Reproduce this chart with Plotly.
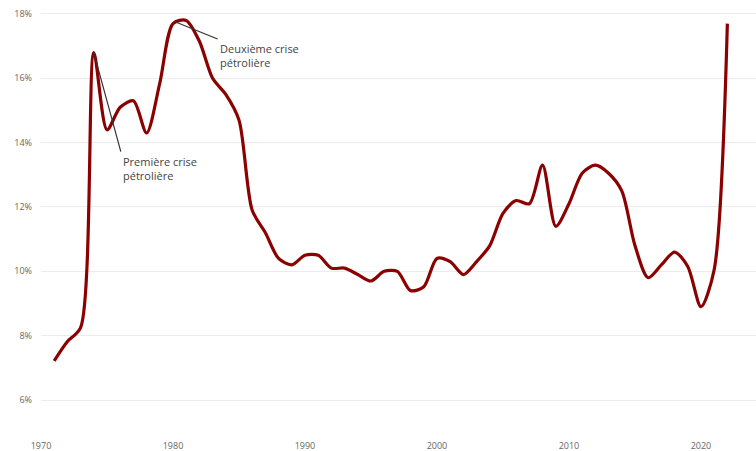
import plotly.graph_objects as go

years = list(range(1971, 2023))
values = [7.22, 7.82, 8.25, 16.8, 14.4, 15.1, 15.3, 14.3, 15.85, 17.7,
          17.8, 17.15, 16.0, 15.5, 14.7, 11.9, 11.2, 10.4, 10.2, 10.5,
          10.5, 10.1, 10.1, 9.9, 9.7, 10.0, 10.0, 9.4, 9.52, 10.4,
          10.3, 9.9, 10.3, 10.8, 11.8, 12.2, 12.1, 13.3, 11.4, 12.1,
          13.05, 13.3, 13.05, 12.5, 10.8, 9.8, 10.2, 10.6, 10.15, 8.9,
          10.05, 17.7]
y_ticks = [6, 8, 10, 12, 14, 16, 18]
y_tick_labels = ["6%", "8%", "10%", "12%", "14%", "16%", "18%"]
x_ticks = [1970, 1980, 1990, 2000, 2010, 2020]

fig = go.Figure()
fig.add_trace(go.Scatter(
    x=years, y=values, mode="lines",
    line=dict(color="#8b0000", width=3.2, shape="spline", smoothing=0.8),
    hoverinfo="x+y", showlegend=False,
))

fig.add_annotation(
    x=1974, y=16.8, text="Première crise<br>pétrolière",
    showarrow=True, arrowhead=0, arrowwidth=1.2, arrowcolor="#333",
    ax=27, ay=99, xanchor="left", yanchor="top", align="left",
    font=dict(family="Open Sans", size=11, color="#444"),
)
fig.add_annotation(
    x=1980.2, y=17.75, text="Deuxième crise<br>pétrolière",
    showarrow=True, arrowhead=0, arrowwidth=1.2, arrowcolor="#333",
    ax=42, ay=17, xanchor="left", yanchor="top", align="left",
    font=dict(family="Open Sans", size=11, color="#444"),
)

fig.update_layout(
    width=756, height=451,
    margin=dict(l=41, r=0, t=4, b=12),
    paper_bgcolor="white", plot_bgcolor="white",
    font=dict(family="Open Sans", size=10, color="#666"),
    xaxis=dict(
        range=[1970, 2024.17], tickvals=x_ticks, showgrid=False,
        zeroline=False, showline=False, ticks="", automargin=False,
        tickfont=dict(size=9, color="#666"),
    ),
    yaxis=dict(
        range=[4.788, 18.31], tickvals=y_ticks, ticktext=y_tick_labels,
        showgrid=True, gridcolor="#ececec", gridwidth=1,
        zeroline=False, showline=False, ticks="", automargin=False,
        tickfont=dict(size=9, color="#666"), ticklabelstandoff=8,
    ),
)

fig.write_html("out.html", config={"displayModeBar": False},
               post_script="document.body.style.margin='0';document.body.style.overflow='hidden';")
